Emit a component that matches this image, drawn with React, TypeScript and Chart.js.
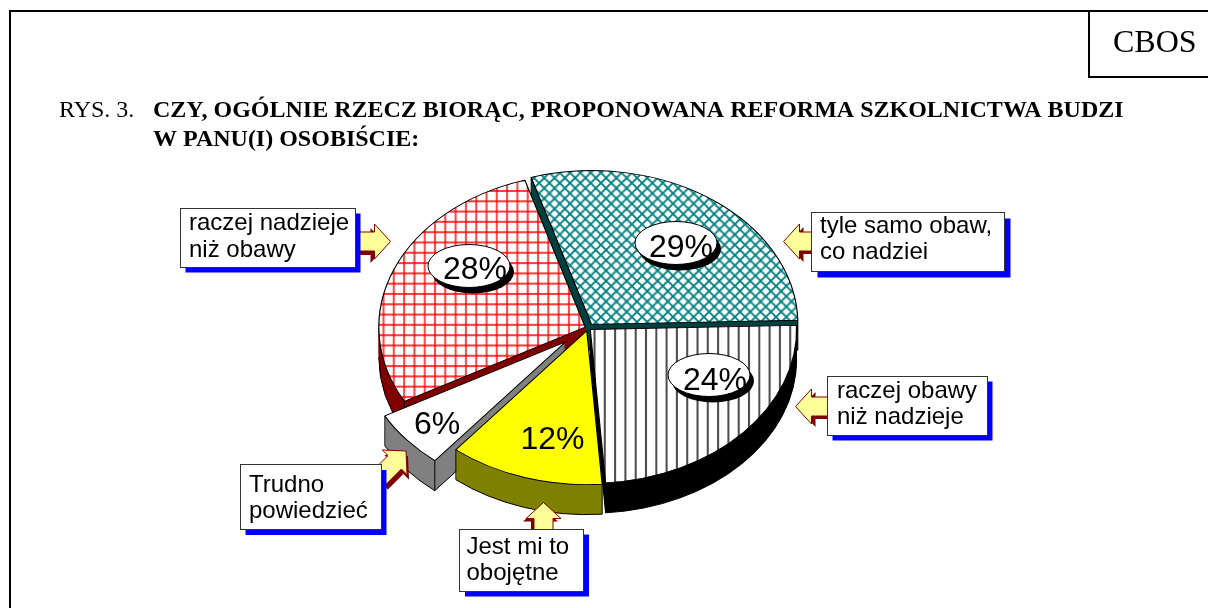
import React, { useEffect, useRef } from "react";
import { Chart, registerables } from "chart.js";

Chart.register(...registerables);

const categories = [
  ["tyle samo obaw,", "co nadziei"],
  ["raczej obawy", "niż nadzieje"],
  ["Jest mi to", "obojętne"],
  ["Trudno", "powiedzieć"],
  ["raczej nadzieje", "niż obawy"],
];
const values = [29, 24, 12, 6, 28];

const sideColors = ["#004040", "#000000", "#808000", "#808080", "#800000"];
const explode = [6, 3, 4, 29, 3];
const drawOrder = [0, 4, 3, 1, 2];
const SQUASH = 0.745;
const DEPTH = 30;

// layout of the annotations, in page pixels
const labelPos = [[681, 245.5], [715, 378.5], [552.5, 437.5], [437, 422], [475, 267.5]];
const bubblePos = [[676, 243], [709, 375], null, null, [469, 266]];
const boxes = [
  { x: 811.5, y: 212.5, w: 193, h: 59, sx: 6, sy: 6, tx: 820, b1: 233, b2: 259 },
  { x: 827.5, y: 376.5, w: 160, h: 59, sx: 5, sy: 5, tx: 837, b1: 398, b2: 424 },
  { x: 459.5, y: 529.5, w: 124, h: 62, sx: 5.5, sy: 5, tx: 466.5, b1: 554, b2: 579.5 },
  { x: 240.5, y: 464.5, w: 141, h: 65, sx: 5, sy: 5.5, tx: 249, b1: 491.5, b2: 517.5 },
  { x: 180.5, y: 208.5, w: 175, h: 59, sx: 5, sy: 5, tx: 189, b1: 230, b2: 256.5 },
];
const arrows = [
  { tip: [783.5, 241.5], ang: Math.PI, len: 32, sdx: 4, sdy: 3 },
  { tip: [795.5, 406.5], ang: Math.PI, len: 36, sdx: 4, sdy: 3 },
  { tip: [543.5, 502.5], ang: -Math.PI / 2, len: 30, sdx: -3, sdy: 3 },
  { tip: [406, 451], ang: -Math.PI / 4, len: 38, sdx: 2, sdy: 5 },
  { tip: [390.5, 241.5], ang: 0, len: 36, sdx: -4, sdy: 4 },
];

function makePattern(kind: string, bg: string, fg: string, lw: number) {
  const s = 10;
  const c = document.createElement("canvas");
  c.width = s;
  c.height = s;
  const g = c.getContext("2d")!;
  g.fillStyle = bg;
  g.fillRect(0, 0, s, s);
  g.strokeStyle = fg;
  g.lineWidth = lw;
  g.beginPath();
  if (kind === "grid") {
    g.moveTo(5, 0); g.lineTo(5, s);
    g.moveTo(0, 5); g.lineTo(s, 5);
  } else if (kind === "vert") {
    g.moveTo(5, 0); g.lineTo(5, s);
  } else {
    g.moveTo(-1, -1); g.lineTo(s + 1, s + 1);
    g.moveTo(-1, s + 1); g.lineTo(s + 1, -1);
    g.moveTo(-6, 4); g.lineTo(6, 16);
    g.moveTo(4, -6); g.lineTo(16, 6);
    g.moveTo(-6, 6); g.lineTo(6, -6);
    g.moveTo(4, 16); g.lineTo(16, 4);
  }
  g.stroke();
  const p = g.createPattern(c, "repeat")!;
  p.setTransform(new DOMMatrix().scale(1.03, 1.03 / SQUASH));
  return p;
}

function drawArrow(ctx: CanvasRenderingContext2D, a: any) {
  const path = (ox: number, oy: number) => {
    const pts = [[0, 0], [-16, -17.5], [-16, -9.5], [-a.len, -9.5], [-a.len, 9.5], [-16, 9.5], [-16, 17.5]];
    const c = Math.cos(a.ang), s = Math.sin(a.ang);
    ctx.beginPath();
    pts.forEach(([x, y], i) => {
      const px = a.tip[0] + ox + x * c - y * s;
      const py = a.tip[1] + oy + x * s + y * c;
      if (i) ctx.lineTo(px, py); else ctx.moveTo(px, py);
    });
    ctx.closePath();
  };
  ctx.fillStyle = "#800000";
  path(a.sdx, a.sdy);
  ctx.fill();
  ctx.fillStyle = "#FFFF99";
  ctx.strokeStyle = "#800000";
  ctx.lineWidth = 1;
  path(0, 0);
  ctx.fill();
  ctx.stroke();
}

const piePlugin = {
  id: "pie3d",
  beforeDatasetDraw(chart: any) {
    const ctx: CanvasRenderingContext2D = chart.ctx;
    const arcs = chart.getDatasetMeta(0).data;
    for (const i of drawOrder) {
      const arc = arcs[i];
      const { x, y, startAngle: a, endAngle: b, outerRadius: R } = arc;
      const mid = (a + b) / 2;
      const ex = explode[i] * Math.cos(mid);
      const ey = explode[i] * Math.sin(mid);
      const cx = x + ex;
      const cy = y + ey * SQUASH;
      // side walls: sweep of the slice outline downwards
      ctx.save();
      ctx.fillStyle = sideColors[i];
      for (let k = DEPTH; k >= 0; k -= 1) {
        ctx.beginPath();
        ctx.moveTo(cx, cy + k);
        ctx.ellipse(cx, cy + k, R, R * SQUASH, 0, a, b);
        ctx.closePath();
        ctx.fill();
      }
      // visible edges of the walls
      ctx.strokeStyle = "#000";
      ctx.lineWidth = 1;
      ctx.beginPath();
      const from = Math.max(a, 0), to = Math.min(b, Math.PI);
      if (to > from) ctx.ellipse(cx, cy + DEPTH, R, R * SQUASH, 0, from, to);
      const corner = (t: number) => {
        const px = cx + R * Math.cos(t), py = cy + R * SQUASH * Math.sin(t);
        ctx.moveTo(px, py);
        ctx.lineTo(px, py + DEPTH);
        return [px, py + DEPTH];
      };
      if (Math.cos(a) < 0) {
        const [px, py] = corner(a);
        ctx.moveTo(px, py);
        ctx.lineTo(cx, cy + DEPTH);
      } else if (Math.sin(a) > 0) corner(a);
      if (Math.cos(b) > 0) {
        const [px, py] = corner(b);
        ctx.moveTo(px, py);
        ctx.lineTo(cx, cy + DEPTH);
      } else if (Math.sin(b) > 0) corner(b);
      ctx.stroke();
      ctx.restore();
      // top surface, drawn by the arc element itself
      ctx.save();
      ctx.translate(cx, cy);
      ctx.scale(1, SQUASH);
      ctx.translate(-x, -y);
      arc.draw(ctx);
      ctx.restore();
    }
    return false;
  },
  afterDraw(chart: any) {
    const ctx: CanvasRenderingContext2D = chart.ctx;
    ctx.save();
    // percentage labels
    values.forEach((v, i) => {
      const b = bubblePos[i];
      if (b) {
        ctx.beginPath();
        ctx.ellipse(b[0] + 4, b[1] + 6, 41, 21.5, 0, 0, Math.PI * 2);
        ctx.fillStyle = "#000";
        ctx.fill();
        ctx.beginPath();
        ctx.ellipse(b[0], b[1], 41, 21.5, 0, 0, Math.PI * 2);
        ctx.fillStyle = "#fff";
        ctx.fill();
        ctx.strokeStyle = "#000";
        ctx.lineWidth = 1;
        ctx.stroke();
      }
      ctx.fillStyle = "#000";
      ctx.font = '32px "Liberation Sans"';
      ctx.textAlign = "center";
      ctx.textBaseline = "alphabetic";
      ctx.fillText(`${v}%`, labelPos[i][0], labelPos[i][1] + 11.5);
    });
    // callouts
    categories.forEach((lines, i) => {
      drawArrow(ctx, arrows[i]);
      const c = boxes[i];
      ctx.fillStyle = "#0000FF";
      ctx.fillRect(c.x + c.sx, c.y + c.sy, c.w, c.h);
      ctx.fillStyle = "#fff";
      ctx.fillRect(c.x, c.y, c.w, c.h);
      ctx.strokeStyle = "#333";
      ctx.lineWidth = 1;
      ctx.strokeRect(c.x, c.y, c.w, c.h);
      ctx.fillStyle = "#000";
      ctx.font = '24px "Liberation Sans"';
      ctx.textAlign = "left";
      ctx.fillText(lines[0], c.tx, c.b1);
      ctx.fillText(lines[1], c.tx, c.b2);
    });
    // frame and heading
    ctx.strokeStyle = "#000";
    ctx.lineWidth = 2;
    ctx.beginPath();
    ctx.moveTo(10, 608);
    ctx.lineTo(10, 11);
    ctx.lineTo(1208, 11);
    ctx.moveTo(1089, 11);
    ctx.lineTo(1089, 77);
    ctx.lineTo(1208, 77);
    ctx.stroke();
    ctx.fillStyle = "#000";
    ctx.font = '32px "Liberation Serif"';
    ctx.fillText("CBOS", 1113, 52);
    ctx.font = '24px "Liberation Serif"';
    ctx.fillText("RYS. 3.", 59, 117);
    ctx.font = 'bold 24px "Liberation Serif"';
    ctx.fillText("CZY, OGÓLNIE RZECZ BIORĄC, PROPONOWANA REFORMA SZKOLNICTWA BUDZI", 153, 117);
    ctx.fillText("W PANU(I) OSOBIŚCIE:", 153, 146);
    ctx.restore();
  },
};

export default function App() {
  const ref = useRef<HTMLCanvasElement>(null);
  useEffect(() => {
    document.body.style.margin = "0";
    document.body.style.background = "#fff";
    const fills = [
      makePattern("diag", "#ffffff", "#008080", 1.8),
      makePattern("vert", "#ffffff", "#222222", 1.6),
      "#FFFF00",
      "#FFFFFF",
      makePattern("grid", "#ffffff", "#FF0000", 1.4),
    ];
    const chart = new Chart(ref.current!, {
      type: "pie",
      data: {
        labels: categories.map((c) => c.join(" ")),
        datasets: [
          {
            data: values,
            backgroundColor: fills as any,
            borderColor: "#000000",
            borderWidth: 1.2,
          },
        ],
      },
      options: {
        animation: false,
        responsive: false,
        events: [],
        rotation: -17,
        layout: { padding: { left: 381, right: 413, top: 121, bottom: 73 } },
        plugins: { legend: { display: false }, tooltip: { enabled: false } },
      },
      plugins: [piePlugin as any],
    });
    return () => chart.destroy();
  }, []);
  return (
    <div style={{ position: "absolute", left: 0, top: 0, width: 1208, height: 608, overflow: "hidden", background: "#fff" }}>
      <canvas ref={ref} width={1208} height={608} style={{ display: "block" }} />
    </div>
  );
}
